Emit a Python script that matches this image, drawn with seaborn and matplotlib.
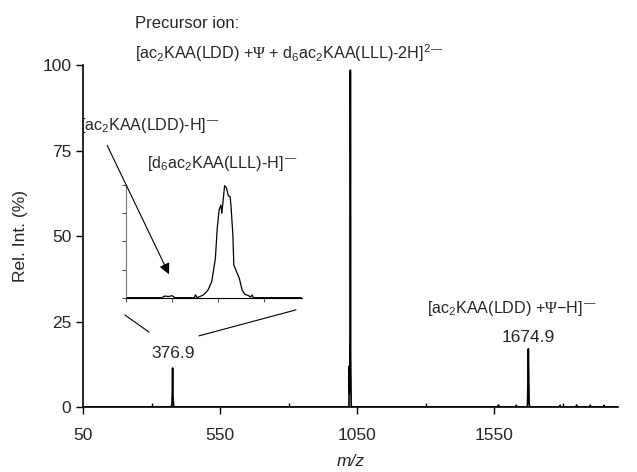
import numpy as np
import pandas as pd
import matplotlib
matplotlib.use("Agg")
import matplotlib.pyplot as plt
import seaborn as sns

# full scan spectrum (m/z vs relative intensity)
main_mz = [50, 200, 372.0, 374.5, 375.6, 376.3, 376.9, 377.5, 378.4, 380.5, 383.0,
           600, 1015, 1019.5, 1020.5, 1021.5, 1022.5, 1024.8, 1025.5, 1026.6, 1028.5, 1031,
           1300, 1565, 1566, 1567, 1630, 1631, 1632,
           1668, 1670.5, 1672.0, 1673.5, 1674.9, 1676.3, 1677.8, 1680,
           1685, 1790, 1791, 1792, 1850, 1851, 1852, 1900, 1901, 1902, 1950, 1951, 1952, 2000]
main_int = [0, 0, 0, 0.8, 4.0, 6.0, 11.4, 5.5, 3.0, 0.5, 0,
            0, 0, 0, 0.5, 12.0, 4.0, 20.0, 98.5, 15.0, 0.5, 0,
            0, 0, 0.6, 0, 0, 0.5, 0,
            0, 0, 1.0, 8.5, 17.0, 9.0, 1.0, 0,
            0, 0, 0.5, 0, 0, 0.6, 0, 0, 0.5, 0, 0, 0.5, 0, 0]

# zoom around m/z 371-377
inset_mz = [366, 369.9, 370.2, 370.6, 371.0, 371.3, 373.4, 373.55, 373.7, 374.4,
            374.9, 375.3, 375.7, 375.9, 376.1, 376.3, 376.4, 376.6, 376.7, 376.9,
            377.0, 377.1, 377.3, 377.4, 377.6, 377.7, 378.0, 378.3, 378.6, 378.9,
            379.3, 379.5, 379.7, 379.8, 385]
inset_int = [0, 0, 1.5, 1.0, 1.8, 0, 0, 2.5, 0, 2.4,
             6.8, 14.2, 34.9, 61.5, 77.8, 82.2, 74.8, 91.1, 99.4, 97.6,
             94.1, 90.5, 89.6, 80.8, 55.6, 29.0, 23.0, 17.2, 6.8, 3.0,
             1.8, 0.5, 2.4, 0, 0]

x_ticks = [50, 550, 1050, 1550]
y_ticks = [0, 25, 50, 75, 100]

sns.set_style("ticks")
plt.rcParams['font.family'] = ['Liberation Sans', 'DejaVu Sans']
plt.rcParams['mathtext.fontset'] = 'custom'
plt.rcParams['mathtext.rm'] = 'Liberation Sans'
plt.rcParams['mathtext.it'] = 'Liberation Sans:italic'
plt.rcParams['mathtext.sf'] = 'Liberation Serif'

W, H = 637, 472
fig = plt.figure(figsize=(W / 100, H / 100), dpi=100)
ax = fig.add_axes([83 / W, 1 - 407 / H, (618 - 83) / W, (407 - 65) / H])

df = pd.DataFrame({"mz": main_mz, "int": main_int})
sns.lineplot(data=df, x="mz", y="int", estimator=None, sort=False, color="black", lw=1.2, ax=ax)

ax.set_xlim(50, 2002)
ax.set_ylim(0, 100)
ax.set_xticks(x_ticks)
ax.set_xticks([300, 800, 1300, 1800], minor=True)
ax.set_yticks(y_ticks)
ax.tick_params(axis="both", which="major", direction="out", length=5, width=1, labelsize=12.5, color="black")
ax.tick_params(axis="x", which="minor", direction="in", length=3, width=1, color="black")
ax.tick_params(axis="x", pad=10)
for s in ["top", "right"]:
    ax.spines[s].set_visible(False)
for s in ["left", "bottom"]:
    ax.spines[s].set_color("black")
    ax.spines[s].set_linewidth(1.2)
ax.set_xlabel("m/z", fontsize=12.5, style="italic", labelpad=8)
ax.set_ylabel("Rel. Int. (%)", fontsize=12.5, labelpad=10)

# inset
axi = fig.add_axes([126 / W, 1 - 297.7 / H, (302 - 126) / W, (297.7 - 185) / H])
dfi = pd.DataFrame({"mz": inset_mz, "int": inset_int})
sns.lineplot(data=dfi, x="mz", y="int", estimator=None, sort=False, color="black", lw=0.9, ax=axi)
axi.set_xlim(366, 385.1)
axi.set_ylim(0, 100)
axi.set_xticks([366, 371, 376, 381])
axi.set_yticks(y_ticks)
axi.set_xticklabels([])
axi.set_yticklabels([])
axi.set_xlabel("")
axi.set_ylabel("")
axi.patch.set_alpha(0)
axi.tick_params(axis="both", direction="out", length=3, width=0.8, color="#555555")
for s in ["top", "right"]:
    axi.spines[s].set_visible(False)
axi.spines["left"].set_color("#777777")
axi.spines["bottom"].set_color("black")

# zoom guide lines
ax.plot([203, 291], [26.9, 21.9], color="black", lw=0.8, clip_on=False)
ax.plot([473, 827], [20.8, 28.4], color="black", lw=0.8, clip_on=False)

# arrow
axi.annotate("", xy=(370.8, 18.6), xycoords="data", xytext=(134, 77.2), textcoords=ax.transData,
             arrowprops=dict(arrowstyle="-|>", color="black", lw=0.8, mutation_scale=16))

def ftxt(x, y, s, size=12.5, **kw):
    fig.text(x / W, 1 - y / H, s, fontsize=size, va="center", **kw)

ftxt(135, 24, "Precursor ion:", size=12)
ftxt(135, 53, r"[ac$_2$KAA(LDD) +$\mathsf{\Psi}$ + d$_6$ac$_2$KAA(LLL)-2H]$^{2\,\mathrm{—}}$", size=11.6)
ftxt(80, 125, r"[ac$_2$KAA(LDD)-H]$^{\,\mathrm{—}}$", size=11.6)
ftxt(147, 163, r"[d$_6$ac$_2$KAA(LLL)-H]$^{\,\mathrm{—}}$", size=11.6)
ftxt(173, 353, "376.9", ha="center")
ftxt(427, 308, r"[ac$_2$KAA(LDD) +$\mathsf{\Psi}$−H]$^{\,\mathrm{—}}$", size=11.6)
ftxt(528, 338, "1674.9", ha="center")

fig.savefig("out.png", dpi=100)
